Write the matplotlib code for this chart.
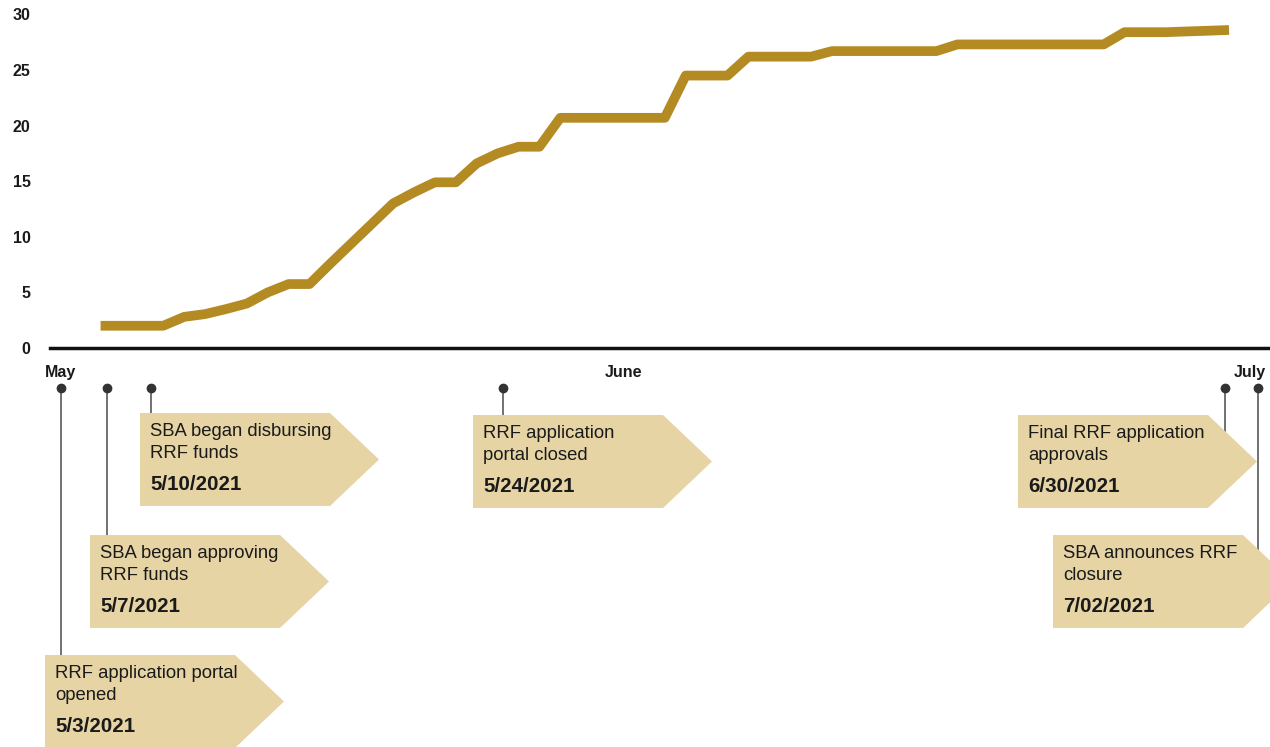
import matplotlib
matplotlib.use("Agg")
import numpy as np
from matplotlib import pyplot, transforms
from matplotlib.patches import Polygon

pyplot.rcParams['font.family'] = ['Liberation Sans', 'DejaVu Sans']

# day number counted from May 1 (= 0); one value per day, May 7 .. June 30
days = np.arange(6, 61)
values = [2.0, 2.0, 2.0, 2.0, 2.8, 3.05, 3.5, 4.0, 5.0, 5.75,
          5.75, 7.6, 9.4, 11.2, 13.0, 14.0, 14.9, 14.9, 16.6, 17.5,
          18.1, 18.1, 20.7, 20.7, 20.7, 20.7, 20.7, 20.7, 24.5, 24.5,
          24.5, 26.2, 26.2, 26.2, 26.2, 26.7, 26.7, 26.7, 26.7, 26.7,
          26.7, 27.3, 27.3, 27.3, 27.3, 27.3, 27.3, 27.3, 27.3, 28.4,
          28.4, 28.4, 28.47, 28.53, 28.6]

month_pos = [4.06, 31, 61]
month_labels = ["May", "June", "July"]

event_x = [4.1, 6.3, 8.4, 25.25, 59.8, 61.4]
event_text = ["RRF application portal\nopened",
              "SBA began approving\nRRF funds",
              "SBA began disbursing\nRRF funds",
              "RRF application\nportal closed",
              "Final RRF application\napprovals",
              "SBA announces RRF\nclosure"]
event_date = ["5/3/2021", "5/7/2021", "5/10/2021", "5/24/2021", "6/30/2021", "7/02/2021"]

# callout layout in pixels (left, top)
box_left = [45, 90, 140, 473, 1018, 1053]
box_top = [655, 535, 413, 415, 415, 535]
box_w, box_tip, box_h = 190, 49, 93

line_color = "#B48B23"
box_color = "#E6D4A5"
text_color = "#1a1a1a"

fig = pyplot.figure(figsize=(12.7, 7.47), dpi=100, facecolor="w")
ax = fig.add_axes([50 / 1270, 399 / 747, 1220 / 1270, 333.6 / 747])
ax.plot(days, values, color=line_color, linewidth=7, solid_capstyle="butt", clip_on=False, zorder=3)
ax.set_xlim(3.58, 61.96)
ax.set_ylim(0, 30)
for s in ["top", "right", "left"]:
    ax.spines[s].set_visible(False)
ax.spines["bottom"].set_linewidth(2.5)
ax.spines["bottom"].set_color("#111111")
ax.set_yticks(range(0, 31, 5))
ax.set_xticks(month_pos, month_labels)
ax.tick_params(axis="y", length=0, pad=14, labelsize=11.5, labelcolor=text_color)
ax.tick_params(axis="x", length=0, pad=12, labelsize=11.5, labelcolor=text_color)
for lab in ax.get_xticklabels() + ax.get_yticklabels():
    lab.set_fontweight("bold")

# overlay in pixel units for the timeline callouts
ov = fig.add_axes([0, 0, 1, 1], zorder=2)
ov.set_xlim(0, 1270)
ov.set_ylim(747, 0)
ov.axis("off")
ov.patch.set_visible(False)
blend = transforms.blended_transform_factory(ax.transData, ov.transData)

stem_end = [t + box_h / 2 for t in box_top]
ov.vlines(event_x, 388, stem_end, transform=blend, color="#666666", linewidth=1.3, zorder=1)
ov.plot(event_x, [388] * len(event_x), "o", transform=blend, color="#333333", markersize=6, zorder=2)

for l, t, txt, d in zip(box_left, box_top, event_text, event_date):
    poly = Polygon([(l, t), (l + box_w, t), (l + box_w + box_tip, t + box_h / 2),
                    (l + box_w, t + box_h), (l, t + box_h)],
                   closed=True, facecolor=box_color, edgecolor="none", zorder=3)
    ov.add_patch(poly)
    for k, line in enumerate(txt.split("\n")):
        ov.text(l + 10, t + 19 + 21 * k, line, va="center", ha="left",
                fontsize=13.3, color=text_color, zorder=4)
    ov.text(l + 10, t + 72, d, va="center", ha="left", fontsize=14.8,
            fontweight="bold", color=text_color, zorder=4)

pyplot.savefig("out.png", dpi=100)
